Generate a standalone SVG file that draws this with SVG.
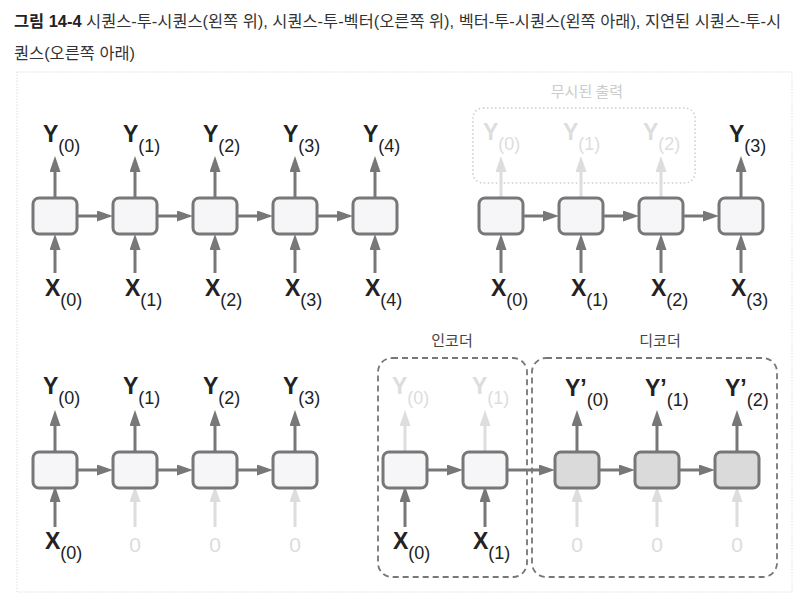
<svg xmlns="http://www.w3.org/2000/svg" width="806" height="603" viewBox="0 0 806 603">
<style>
.title{font-family:"Liberation Sans","Noto Sans CJK KR",sans-serif;font-size:16.4px;fill:#333}
.tb{font-weight:bold;fill:#222}
.cell{fill:#f6f6f8;stroke:#777;stroke-width:3}
.dcell{fill:#dadada;stroke:#777;stroke-width:3}
.ln{stroke:#777;stroke-width:3;fill:none}
.fl{stroke:#ddd;stroke-width:3;fill:none}
.lbl{font-family:"Liberation Sans",Arial,sans-serif;font-size:23px;font-weight:bold;fill:#222}
.flbl{font-family:"Liberation Sans",Arial,sans-serif;font-size:23px;font-weight:bold;fill:#ddd}
.sub{font-size:18px;font-weight:normal}
.zero{font-family:"Liberation Sans",Arial,sans-serif;font-size:21px;fill:#ddd;text-anchor:middle}
.kr{font-family:"Noto Sans CJK KR",sans-serif;font-size:15px;fill:#444;text-anchor:middle}
</style>
<defs>
<marker id="ah" markerUnits="userSpaceOnUse" viewBox="0 0 16 11" refX="0" refY="5.5" markerWidth="16" markerHeight="11" orient="auto"><path d="M0,0 L16,5.5 L0,11 z" fill="#777"/></marker>
<marker id="fh" markerUnits="userSpaceOnUse" viewBox="0 0 16 11" refX="0" refY="5.5" markerWidth="16" markerHeight="11" orient="auto"><path d="M0,0 L16,5.5 L0,11 z" fill="#ddd"/></marker>
</defs>
<rect width="806" height="603" fill="#fff"/>
<text class="title" x="14" y="27"><tspan class="tb">그림 14-4</tspan> 시퀀스-투-시퀀스(왼쪽 위), 시퀀스-투-벡터(오른쪽 위), 벡터-투-시퀀스(왼쪽 아래), 지연된 시퀀스-투-시</text>
<text class="title" x="14" y="59">퀀스(오른쪽 아래)</text>
<rect x="17" y="72" width="775" height="520" fill="none" stroke="#ddd" stroke-width="1" stroke-dasharray="1.5 1.5"/>

<g id="ignored">
<rect x="473" y="108" width="222" height="75" rx="10" fill="none" stroke="#ccc" stroke-width="1.5" stroke-dasharray="1.5 2.5"/>
<text class="kr" x="587" y="97" style="fill:#ccc">무시된 출력</text>
</g>
<g id="encoder">
<rect x="378" y="358" width="149" height="219" rx="14" fill="none" stroke="#777" stroke-width="1.8" stroke-dasharray="6 4"/>
<text class="kr" x="452" y="346">인코더</text>
</g>
<g id="decoder">
<rect x="532" y="358" width="245" height="219" rx="14" fill="none" stroke="#777" stroke-width="1.8" stroke-dasharray="6 4"/>
<text class="kr" x="660" y="346">디코더</text>
</g>

<g id="connectors">
<line class="ln" x1="77" y1="216" x2="97" y2="216" marker-end="url(#ah)"/>
<line class="ln" x1="157" y1="216" x2="177" y2="216" marker-end="url(#ah)"/>
<line class="ln" x1="237" y1="216" x2="257" y2="216" marker-end="url(#ah)"/>
<line class="ln" x1="317" y1="216" x2="337" y2="216" marker-end="url(#ah)"/>
<line class="ln" x1="55" y1="198" x2="55" y2="172" marker-end="url(#ah)"/>
<line class="ln" x1="135" y1="198" x2="135" y2="172" marker-end="url(#ah)"/>
<line class="ln" x1="215" y1="198" x2="215" y2="172" marker-end="url(#ah)"/>
<line class="ln" x1="295" y1="198" x2="295" y2="172" marker-end="url(#ah)"/>
<line class="ln" x1="375" y1="198" x2="375" y2="172" marker-end="url(#ah)"/>
<line class="ln" x1="55" y1="273" x2="55" y2="250" marker-end="url(#ah)"/>
<line class="ln" x1="135" y1="273" x2="135" y2="250" marker-end="url(#ah)"/>
<line class="ln" x1="215" y1="273" x2="215" y2="250" marker-end="url(#ah)"/>
<line class="ln" x1="295" y1="273" x2="295" y2="250" marker-end="url(#ah)"/>
<line class="ln" x1="375" y1="273" x2="375" y2="250" marker-end="url(#ah)"/>
<line class="ln" x1="523" y1="216" x2="543" y2="216" marker-end="url(#ah)"/>
<line class="ln" x1="603" y1="216" x2="623" y2="216" marker-end="url(#ah)"/>
<line class="ln" x1="683" y1="216" x2="703" y2="216" marker-end="url(#ah)"/>
<line class="fl" x1="501" y1="198" x2="501" y2="172" marker-end="url(#fh)"/>
<line class="fl" x1="581" y1="198" x2="581" y2="172" marker-end="url(#fh)"/>
<line class="fl" x1="661" y1="198" x2="661" y2="172" marker-end="url(#fh)"/>
<line class="ln" x1="741" y1="198" x2="741" y2="172" marker-end="url(#ah)"/>
<line class="ln" x1="501" y1="273" x2="501" y2="250" marker-end="url(#ah)"/>
<line class="ln" x1="581" y1="273" x2="581" y2="250" marker-end="url(#ah)"/>
<line class="ln" x1="661" y1="273" x2="661" y2="250" marker-end="url(#ah)"/>
<line class="ln" x1="741" y1="273" x2="741" y2="250" marker-end="url(#ah)"/>
<line class="ln" x1="77" y1="470" x2="97" y2="470" marker-end="url(#ah)"/>
<line class="ln" x1="157" y1="470" x2="177" y2="470" marker-end="url(#ah)"/>
<line class="ln" x1="237" y1="470" x2="257" y2="470" marker-end="url(#ah)"/>
<line class="ln" x1="55" y1="452" x2="55" y2="426" marker-end="url(#ah)"/>
<line class="ln" x1="135" y1="452" x2="135" y2="426" marker-end="url(#ah)"/>
<line class="ln" x1="215" y1="452" x2="215" y2="426" marker-end="url(#ah)"/>
<line class="ln" x1="295" y1="452" x2="295" y2="426" marker-end="url(#ah)"/>
<line class="ln" x1="55" y1="527" x2="55" y2="502" marker-end="url(#ah)"/>
<line class="fl" x1="135" y1="527" x2="135" y2="502" marker-end="url(#fh)"/>
<line class="fl" x1="215" y1="527" x2="215" y2="502" marker-end="url(#fh)"/>
<line class="fl" x1="295" y1="527" x2="295" y2="502" marker-end="url(#fh)"/>
<line class="ln" x1="427" y1="470" x2="447" y2="470" marker-end="url(#ah)"/>
<line class="ln" x1="507" y1="470" x2="539" y2="470" marker-end="url(#ah)"/>
<line class="ln" x1="599" y1="470" x2="619" y2="470" marker-end="url(#ah)"/>
<line class="ln" x1="679" y1="470" x2="699" y2="470" marker-end="url(#ah)"/>
<line class="fl" x1="405" y1="452" x2="405" y2="426" marker-end="url(#fh)"/>
<line class="fl" x1="485" y1="452" x2="485" y2="426" marker-end="url(#fh)"/>
<line class="ln" x1="577" y1="452" x2="577" y2="426" marker-end="url(#ah)"/>
<line class="ln" x1="657" y1="452" x2="657" y2="426" marker-end="url(#ah)"/>
<line class="ln" x1="737" y1="452" x2="737" y2="426" marker-end="url(#ah)"/>
<line class="ln" x1="405" y1="527" x2="405" y2="502" marker-end="url(#ah)"/>
<line class="ln" x1="485" y1="527" x2="485" y2="502" marker-end="url(#ah)"/>
<line class="fl" x1="577" y1="527" x2="577" y2="502" marker-end="url(#fh)"/>
<line class="fl" x1="657" y1="527" x2="657" y2="502" marker-end="url(#fh)"/>
<line class="fl" x1="737" y1="527" x2="737" y2="502" marker-end="url(#fh)"/>
</g>

<g id="s2s-0"><rect class="cell" x="33" y="198" width="44" height="36" rx="6"/><text class="lbl" x="43" y="142">Y<tspan class="sub" dy="10">(0)</tspan></text><text class="lbl" x="45" y="296">X<tspan class="sub" dy="10">(0)</tspan></text></g>
<g id="s2s-1"><rect class="cell" x="113" y="198" width="44" height="36" rx="6"/><text class="lbl" x="123" y="142">Y<tspan class="sub" dy="10">(1)</tspan></text><text class="lbl" x="125" y="296">X<tspan class="sub" dy="10">(1)</tspan></text></g>
<g id="s2s-2"><rect class="cell" x="193" y="198" width="44" height="36" rx="6"/><text class="lbl" x="203" y="142">Y<tspan class="sub" dy="10">(2)</tspan></text><text class="lbl" x="205" y="296">X<tspan class="sub" dy="10">(2)</tspan></text></g>
<g id="s2s-3"><rect class="cell" x="273" y="198" width="44" height="36" rx="6"/><text class="lbl" x="283" y="142">Y<tspan class="sub" dy="10">(3)</tspan></text><text class="lbl" x="285" y="296">X<tspan class="sub" dy="10">(3)</tspan></text></g>
<g id="s2s-4"><rect class="cell" x="353" y="198" width="44" height="36" rx="6"/><text class="lbl" x="363" y="142">Y<tspan class="sub" dy="10">(4)</tspan></text><text class="lbl" x="365" y="296">X<tspan class="sub" dy="10">(4)</tspan></text></g>

<g id="s2v-0"><rect class="cell" x="479" y="198" width="44" height="36" rx="6"/><text class="flbl" x="483" y="140">Y<tspan class="sub" dy="10">(0)</tspan></text><text class="lbl" x="491" y="296">X<tspan class="sub" dy="10">(0)</tspan></text></g>
<g id="s2v-1"><rect class="cell" x="559" y="198" width="44" height="36" rx="6"/><text class="flbl" x="563" y="140">Y<tspan class="sub" dy="10">(1)</tspan></text><text class="lbl" x="571" y="296">X<tspan class="sub" dy="10">(1)</tspan></text></g>
<g id="s2v-2"><rect class="cell" x="639" y="198" width="44" height="36" rx="6"/><text class="flbl" x="643" y="140">Y<tspan class="sub" dy="10">(2)</tspan></text><text class="lbl" x="651" y="296">X<tspan class="sub" dy="10">(2)</tspan></text></g>
<g id="s2v-3"><rect class="cell" x="719" y="198" width="44" height="36" rx="6"/><text class="lbl" x="729" y="142">Y<tspan class="sub" dy="10">(3)</tspan></text><text class="lbl" x="731" y="296">X<tspan class="sub" dy="10">(3)</tspan></text></g>

<g id="v2s-0"><rect class="cell" x="33" y="452" width="44" height="36" rx="6"/><text class="lbl" x="43" y="394">Y<tspan class="sub" dy="10">(0)</tspan></text><text class="lbl" x="45" y="549">X<tspan class="sub" dy="10">(0)</tspan></text></g>
<g id="v2s-1"><rect class="cell" x="113" y="452" width="44" height="36" rx="6"/><text class="lbl" x="123" y="394">Y<tspan class="sub" dy="10">(1)</tspan></text><text class="zero" x="135" y="552">0</text></g>
<g id="v2s-2"><rect class="cell" x="193" y="452" width="44" height="36" rx="6"/><text class="lbl" x="203" y="394">Y<tspan class="sub" dy="10">(2)</tspan></text><text class="zero" x="215" y="552">0</text></g>
<g id="v2s-3"><rect class="cell" x="273" y="452" width="44" height="36" rx="6"/><text class="lbl" x="283" y="394">Y<tspan class="sub" dy="10">(3)</tspan></text><text class="zero" x="295" y="552">0</text></g>

<g id="enc-0"><rect class="cell" x="383" y="452" width="44" height="36" rx="6"/><text class="flbl" x="392" y="394">Y<tspan class="sub" dy="10">(0)</tspan></text><text class="lbl" x="393" y="549">X<tspan class="sub" dy="10">(0)</tspan></text></g>
<g id="enc-1"><rect class="cell" x="463" y="452" width="44" height="36" rx="6"/><text class="flbl" x="472" y="394">Y<tspan class="sub" dy="10">(1)</tspan></text><text class="lbl" x="473" y="549">X<tspan class="sub" dy="10">(1)</tspan></text></g>
<g id="dec-0"><rect class="dcell" x="555" y="452" width="44" height="36" rx="6"/><text class="lbl" x="565" y="396">Y’<tspan class="sub" dy="10">(0)</tspan></text><text class="zero" x="577" y="552">0</text></g>
<g id="dec-1"><rect class="dcell" x="635" y="452" width="44" height="36" rx="6"/><text class="lbl" x="645" y="396">Y’<tspan class="sub" dy="10">(1)</tspan></text><text class="zero" x="657" y="552">0</text></g>
<g id="dec-2"><rect class="dcell" x="715" y="452" width="44" height="36" rx="6"/><text class="lbl" x="725" y="396">Y’<tspan class="sub" dy="10">(2)</tspan></text><text class="zero" x="737" y="552">0</text></g>
</svg>
